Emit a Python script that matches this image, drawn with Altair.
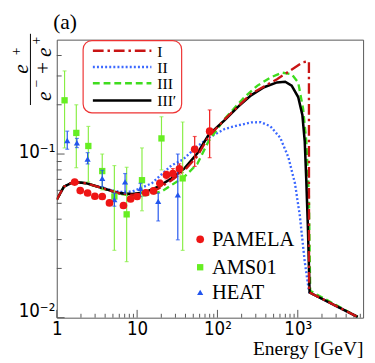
import altair as alt
import pandas as pd

# ---------------- data ----------------
# PAMELA
pam_E = [1.67, 1.96, 2.42, 2.98, 3.68, 4.53, 6.76, 8.29, 10.0, 12.8, 16.0, 19.2, 23.2, 27.9, 33.6, 52.1, 80.0]
pam_v = [0.0674, 0.0598, 0.0578, 0.0552, 0.0550, 0.0503, 0.0485, 0.0531, 0.0550, 0.0580, 0.0595, 0.0662, 0.0745, 0.0760, 0.0813, 0.107, 0.138]
pam_lo = [0.0655, 0.0582, 0.0562, 0.0537, 0.0534, 0.0488, 0.0470, 0.0514, 0.0532, 0.0560, 0.0572, 0.0632, 0.0705, 0.0705, 0.0755, 0.084, 0.095]
pam_hi = [0.0693, 0.0614, 0.0594, 0.0567, 0.0566, 0.0518, 0.0500, 0.0548, 0.0568, 0.0600, 0.0618, 0.0692, 0.0785, 0.0815, 0.0871, 0.128, 0.186]

# AMS01
ams_E = [1.25, 1.75, 2.47, 3.68, 5.21, 7.41, 11.5, 20.1, 36.9]
ams_v = [0.213, 0.1346, 0.112, 0.0787, 0.055, 0.0428, 0.0692, 0.1246, 0.071]
ams_lo = [0.109, 0.0825, 0.0676, 0.0604, 0.0258, 0.0220, 0.045, 0.080, 0.0258]
ams_hi = [0.322, 0.200, 0.1475, 0.100, 0.085, 0.083, 0.109, 0.169, 0.157]

# HEAT
heat_E = [1.35, 1.78, 2.42, 3.68, 5.21, 7.08, 11.0, 18.3, 32.1]
heat_v = [0.121, 0.117, 0.0933, 0.071, 0.0526, 0.0676, 0.0618, 0.0514, 0.0563]
heat_lo = [0.107, 0.1095, 0.087, 0.0632, 0.048, 0.0577, 0.055, 0.039, 0.0299]
heat_hi = [0.138, 0.1246, 0.102, 0.0795, 0.0577, 0.0760, 0.0662, 0.0577, 0.100]

# model I (dash-dot)
m1_E = [1.0, 1.227, 1.623, 2.354, 3.756, 5.995, 8.70, 12.62, 18.35, 26.63, 38.63, 56.2, 77.7, 124, 262, 551, 1163, 1364, 1376, 1380, 5570]
m1_v = [0.0526, 0.0632, 0.0676, 0.0662, 0.0617, 0.0575, 0.0563, 0.0575, 0.0615, 0.0690, 0.0790, 0.097, 0.128, 0.1635, 0.2333, 0.2868, 0.3642, 0.3685, 0.3685, 0.0143, 0.0101]

# model II (dotted)
m2_E = [1.0, 1.227, 1.623, 2.354, 3.756, 5.995, 8.70, 15.22, 26.63, 37.2, 53.6, 77.7, 124, 180, 262, 346, 458, 606, 764, 922, 1061, 1220, 1376, 1403, 5570]
m2_v = [0.0526, 0.0632, 0.0676, 0.0662, 0.0620, 0.0587, 0.0590, 0.0662, 0.0851, 0.0925, 0.1095, 0.1256, 0.1426, 0.1496, 0.156, 0.1566, 0.1476, 0.1256, 0.0954, 0.0662, 0.0418, 0.0220, 0.01458, 0.01424, 0.0101]

# model III (dashed)
m3_E = [1.0, 1.227, 1.623, 2.354, 3.756, 5.995, 8.70, 10.49, 20.1, 38.6, 56.2, 77.7, 124, 217, 315, 458, 634, 839, 1011, 1163, 1276, 1376, 1427, 5570]
m3_v = [0.0526, 0.0632, 0.0676, 0.0662, 0.0615, 0.0572, 0.0556, 0.0550, 0.0590, 0.0725, 0.0871, 0.1201, 0.1648, 0.2231, 0.2619, 0.2935, 0.3145, 0.3071, 0.2741, 0.1899, 0.1201, 0.0550, 0.01458, 0.0101]

# model III' (solid)
m4_E = [1.0, 1.227, 1.623, 2.354, 3.756, 5.995, 8.70, 12.62, 18.35, 26.63, 38.63, 56.2, 77.7, 124, 180, 262, 380, 551, 697, 839, 1011, 1140, 1220, 1276, 1338, 1403, 5570]
m4_v = [0.0526, 0.0632, 0.0676, 0.0662, 0.0618, 0.0577, 0.0569, 0.0585, 0.0632, 0.0709, 0.0814, 0.101, 0.131, 0.1618, 0.1943, 0.2283, 0.2559, 0.2741, 0.2767, 0.2619, 0.2231, 0.1734, 0.1201, 0.0693, 0.0348, 0.01424, 0.0101]

x_major = [1, 10, 100, 1000]
x_minor = [m * d for d in [1, 10, 100, 1000] for m in range(2, 10) if m * d < 6500]
y_major = [0.01, 0.1]
y_minor = [0.02, 0.03, 0.04, 0.05, 0.06, 0.07, 0.08, 0.09, 0.2, 0.3, 0.4]

# ---------------- styling ----------------
W, H = 314, 285
SERIF = "Liberation Serif, DejaVu Serif, Times New Roman, serif"
SANS = "Liberation Sans Narrow, DejaVu Sans Condensed, Liberation Sans, sans-serif"
RED_M, BLUE_M, GREEN_M = "#c81414", "#3b68ff", "#3fdc1e"
RED_P, GREEN_P, BLUE_P = "#ee1515", "#66ee22", "#2255ee"
GREEN_E = "#88ee44"

xs = alt.Scale(type="log", domain=[1, 6500], nice=False)
ys = alt.Scale(type="log", domain=[0.01, 0.5], nice=False)

one = pd.DataFrame({"a": [0]})


def X(f):
    return alt.X(f, scale=xs)


def Y(f):
    return alt.Y(f, scale=ys)


def model(Es, vs, color, dash, width=2.4):
    df = pd.DataFrame({"E": Es, "v": vs, "i": list(range(len(Es)))})
    kw = dict(color=color, strokeWidth=width, clip=True)
    if dash:
        kw["strokeDash"] = dash
    return alt.Chart(df).mark_line(**kw).encode(x=X("E:Q"), y=Y("v:Q"), order="i:Q")


def data_layer(Es, vs, lo, hi, color, ecolor, shape, size):
    df = pd.DataFrame({"E": Es, "v": vs, "lo": lo, "hi": hi})
    base = alt.Chart(df)
    bars = base.mark_rule(color=ecolor, strokeWidth=1.2).encode(x=X("E:Q"), y=Y("lo:Q"), y2="hi:Q")
    cap_lo = base.mark_tick(color=ecolor, orient="horizontal", size=4, thickness=1.2).encode(
        x=X("E:Q"), y=Y("lo:Q"))
    cap_hi = base.mark_tick(color=ecolor, orient="horizontal", size=4, thickness=1.2).encode(
        x=X("E:Q"), y=Y("hi:Q"))
    pts = base.mark_point(shape=shape, filled=True, size=size, color=color, opacity=1).encode(
        x=X("E:Q"), y=Y("v:Q"))
    return [bars, cap_lo, cap_hi, pts]


# axes layer (labels + title only)
axes = alt.Chart(pd.DataFrame({"E": [1], "v": [0.1]})).mark_point(opacity=0).encode(
    x=alt.X("E:Q", scale=xs, title="Energy [GeV]", axis=alt.Axis(
        values=x_major,
        labelExpr="datum.value < 5 ? '1' : datum.value < 50 ? '10' : datum.value < 500 ? '10²' : '10³'",
        titleAnchor="end", titleAlign="right", titleY=38, titleBaseline="alphabetic")),
    y=alt.Y("v:Q", scale=ys, title="", axis=alt.Axis(
        values=y_major,
        labelOffset={"condition": {"test": "datum.value < 0.05", "value": -7}, "value": -2},
        labelExpr="datum.value < 0.05 ? '10⁻²' : '10⁻¹'")),
)

TICK = "#555555"
xt_major = alt.Chart(pd.DataFrame({"E": x_major})).mark_rule(color=TICK, strokeWidth=1).encode(
    x=X("E:Q"), y=alt.value(H), y2=alt.value(H - 8))
xt_minor = alt.Chart(pd.DataFrame({"E": x_minor})).mark_rule(color=TICK, strokeWidth=1).encode(
    x=X("E:Q"), y=alt.value(H), y2=alt.value(H - 4))
yt_major = alt.Chart(pd.DataFrame({"v": y_major})).mark_rule(color=TICK, strokeWidth=1).encode(
    y=Y("v:Q"), x=alt.value(0), x2=alt.value(8))
yt_minor = alt.Chart(pd.DataFrame({"v": y_minor})).mark_rule(color=TICK, strokeWidth=1).encode(
    y=Y("v:Q"), x=alt.value(0), x2=alt.value(5))

lines = [
    model(m2_E, m2_v, BLUE_M, [2, 2.2]),
    model(m3_E, m3_v, GREEN_M, [7, 4]),
    model(m4_E, m4_v, "black", None, 2.6),
    model(m1_E, m1_v, RED_M, [11, 4, 2.5, 4]),
]

pts = (data_layer(ams_E, ams_v, ams_lo, ams_hi, GREEN_P, GREEN_E, "square", 42)
       + data_layer(heat_E, heat_v, heat_lo, heat_hi, BLUE_P, BLUE_P, "triangle-up", 40)
       + data_layer(pam_E, pam_v, pam_lo, pam_hi, RED_P, RED_P, "circle", 62))


def txt(s, x, y, size, font=SERIF, align="center", baseline="middle", angle=0, style="normal"):
    kw = dict(text=s, font=font, fontSize=size, align=align, baseline=baseline, color="black",
              fontStyle=style)
    if angle:
        kw["angle"] = angle
    return alt.Chart(one).mark_text(**kw).encode(x=alt.value(x), y=alt.value(y))


# y-axis title: e+ / (e- + e+), built from rotated pieces
annots = [
    txt("(a)", 8.5, -11, 22, baseline="alphabetic"),
    txt("e", -36, 30, 22, angle=270, style="italic"),
    txt("+", -40.5, 12, 14, angle=270),
    alt.Chart(one).mark_rule(color="black", strokeWidth=1).encode(
        x=alt.value(-27), y=alt.value(-6), y2=alt.value(67)),
    txt("e", -13, 58, 22, angle=270, style="italic"),
    txt("−", -20, 45, 14, angle=270),
    txt("+", -13.5, 29, 22, angle=270),
    txt("e", -13, 13, 22, angle=270, style="italic"),
    txt("+", -20.5, 1, 14, angle=270),
]

# top legend (models)
leg_box = alt.Chart(one).mark_rect(cornerRadius=9, stroke="#ee3333", strokeWidth=1.2, fill="white").encode(
    x=alt.value(27), x2=alt.value(128), y=alt.value(1), y2=alt.value(75))
leg_items = [("I", RED_M, [11, 4, 2.5, 4], 11.3), ("II", BLUE_M, [2, 2.2], 28),
             ("III", GREEN_M, [7, 4], 44.7), ("III′", "black", None, 62.3)]
leg_layers = [leg_box]
for lab, col, dash, yy in leg_items:
    kw = dict(color=col, strokeWidth=2.6)
    if dash:
        kw["strokeDash"] = dash
    leg_layers.append(alt.Chart(one).mark_rule(**kw).encode(
        x=alt.value(37), x2=alt.value(97), y=alt.value(yy)))
    leg_layers.append(txt(lab, 103, yy + 1, 16, align="left"))

# bottom legend (data)
for lab, col, shape, size, yy in [("PAMELA", RED_P, "circle", 62, 204.7),
                                  ("AMS01", GREEN_P, "square", 42, 233.3),
                                  ("HEAT", BLUE_P, "triangle-up", 40, 259)]:
    leg_layers.append(alt.Chart(one).mark_point(shape=shape, filled=True, size=size, color=col, opacity=1).encode(
        x=alt.value(147), y=alt.value(yy)))
    leg_layers.append(txt(lab, 159, yy + 1, 21, align="left"))

chart = alt.layer(
    axes, xt_major, xt_minor, yt_major, yt_minor, *lines, *pts, *annots, *leg_layers
).properties(
    width=W, height=H,
    padding={"left": 50, "top": 28, "right": 4, "bottom": 42},
    autosize=alt.AutoSizeParams(type="none"),
    background="white",
).configure_view(
    stroke="#555555", strokeWidth=1
).configure_axis(
    ticks=False, domain=False, grid=False, labelFlush=False, labelOverlap=False,
    labelFont=SANS, labelFontSize=19, labelPadding=2, labelColor="black",
    titleFont=SERIF, titleFontSize=20, titleFontWeight="normal", titleColor="black",
)

chart.save("out.html", embed_options={"renderer": "svg", "actions": False})
